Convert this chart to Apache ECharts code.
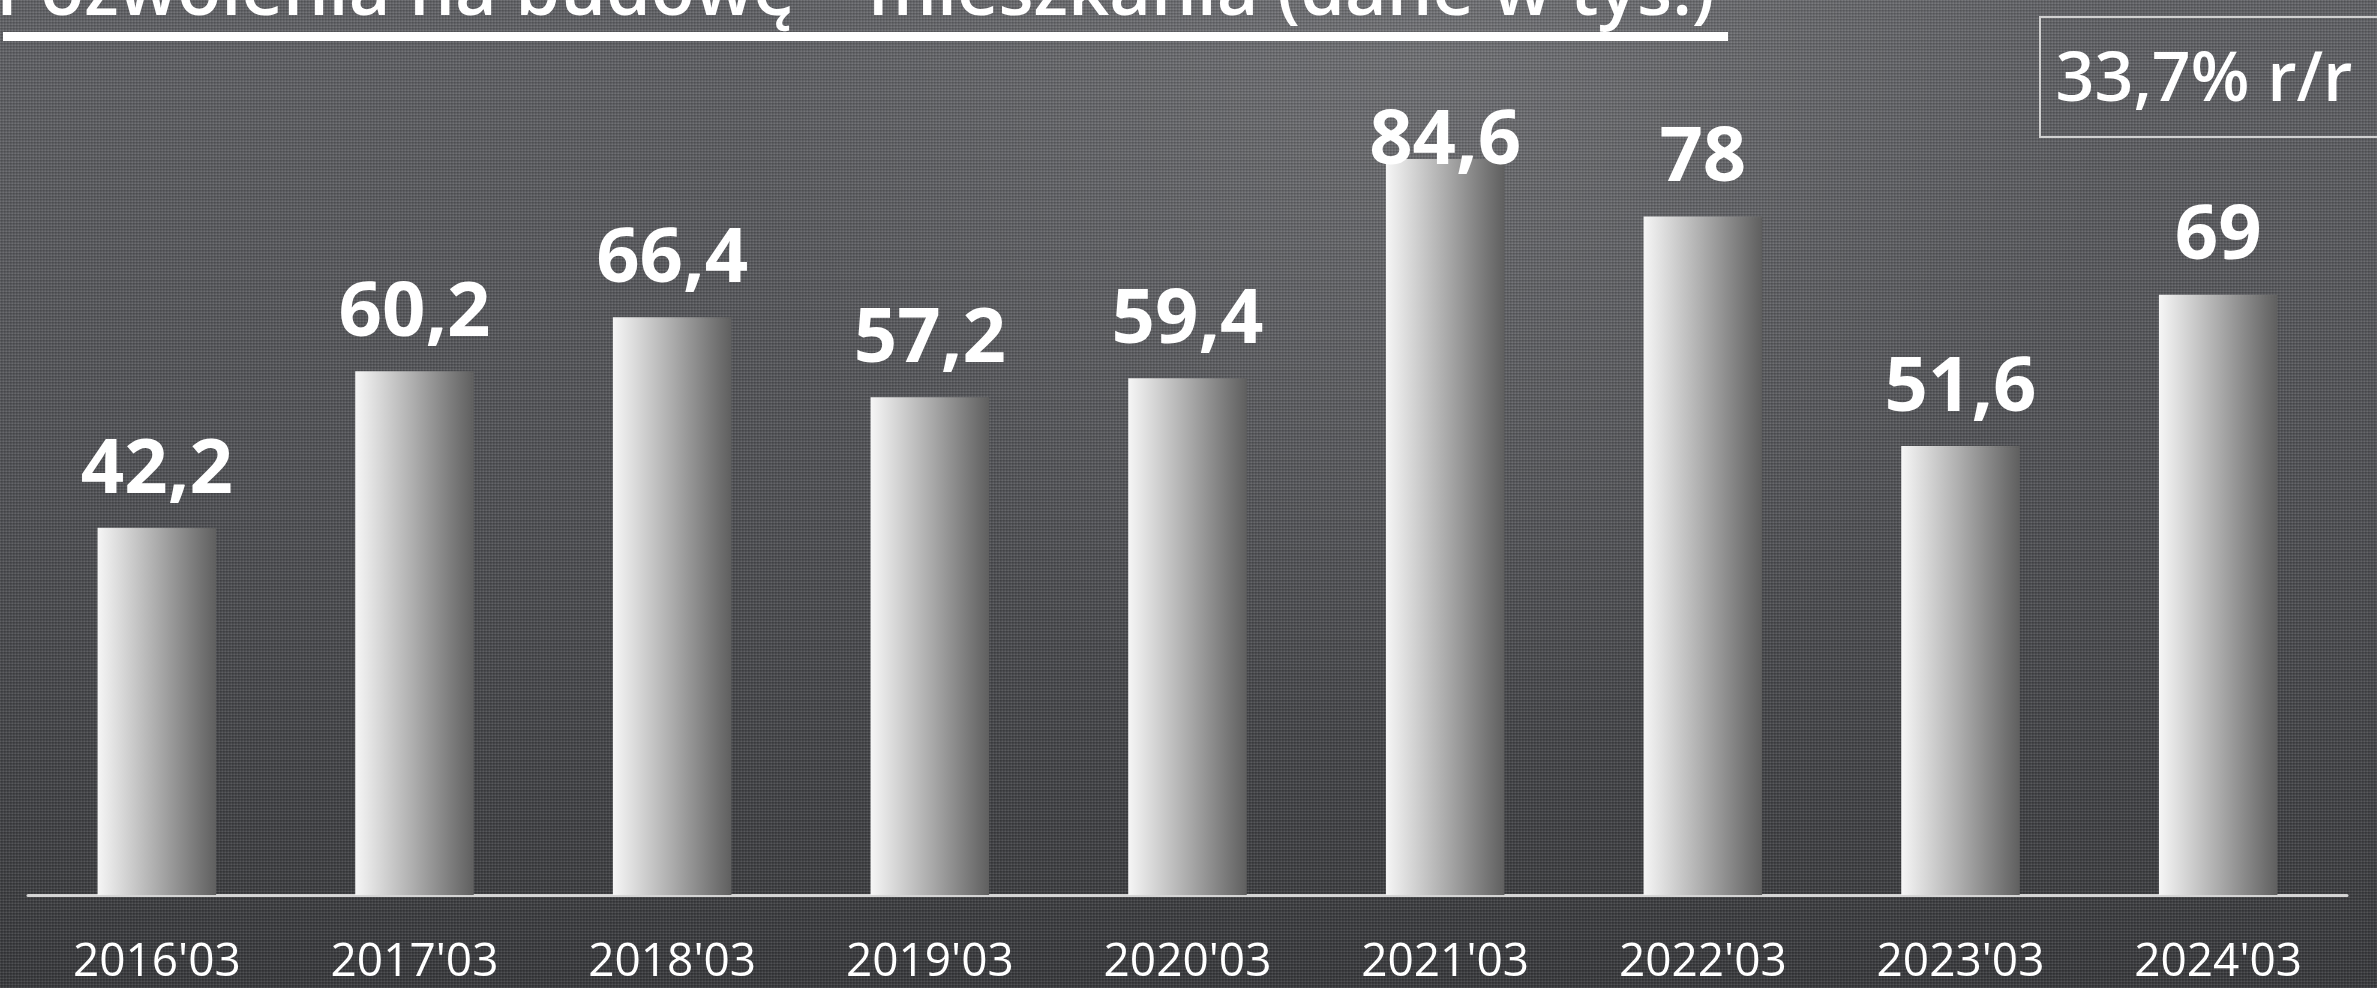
<!DOCTYPE html>
<html>
<head>
<meta charset="utf-8">
<script src="https://cdn.jsdelivr.net/npm/echarts@6/dist/echarts.min.js"></script>
<style>
html,body{margin:0;padding:0;background:#4a4b4f;}
#chart{width:2377px;height:988px;}
</style>
</head>
<body>
<div id="chart"></div>
<script>
const categories = ["2016'03","2017'03","2018'03","2019'03","2020'03","2021'03","2022'03","2023'03","2024'03"];
const values = [42.2, 60.2, 66.4, 57.2, 59.4, 84.6, 78, 51.6, 69];
const titleText = "Pozwolenia na budowę – mieszkania (dane w tys.)";
const badgeText = "33,7% r/r";

// subtle woven texture (deterministic grid pattern)
function makeTexture() {
  const c = document.createElement('canvas');
  c.width = 6; c.height = 6;
  const g = c.getContext('2d');
  g.clearRect(0,0,6,6);
  g.fillStyle = 'rgba(255,255,255,0.07)';
  g.fillRect(0,0,6,1);
  g.fillRect(0,3,6,1);
  g.fillStyle = 'rgba(255,255,255,0.05)';
  g.fillRect(0,0,1,6);
  g.fillRect(3,0,1,6);
  g.fillStyle = 'rgba(0,0,0,0.10)';
  g.fillRect(0,1,6,1);
  g.fillRect(0,4,6,1);
  g.fillStyle = 'rgba(0,0,0,0.07)';
  g.fillRect(1,0,1,6);
  g.fillRect(4,0,1,6);
  return c;
}

// bar data; the tallest label sits lower (touching its bar), as in the source
const barData = values.map((v, i) => {
  const d = {value: v};
  if (v === Math.max(...values)) d.label = {distance: -21};
  return d;
});

const chart = echarts.init(document.getElementById('chart'), null, {renderer:'canvas'});
const option = {
  animation: false,
  backgroundColor: {
    type: 'linear', x: 0, y: 0, x2: 0, y2: 1,
    colorStops: [
      {offset: 0, color: '#616266'},
      {offset: 0.5, color: '#505155'},
      {offset: 1, color: '#38393c'}
    ]
  },
  grid: {left: 28, right: 30, top: 25, bottom: 93, containLabel: false},
  xAxis: {
    type: 'category',
    data: categories,
    axisLine: {show: true, lineStyle: {color: '#d4d4d4', width: 3}},
    axisTick: {show: false},
    axisLabel: {
      color: '#ffffff', fontFamily: 'Open Sans', fontSize: 46, lineHeight: 46,
      margin: 45, interval: 0
    }
  },
  yAxis: {
    type: 'value', min: 0, max: 100, show: false,
    splitLine: {show: false}
  },
  series: [{
    type: 'bar',
    data: barData,
    barWidth: '46%',
    itemStyle: {
      color: {
        type: 'linear', x: 0, y: 0, x2: 1, y2: 0,
        colorStops: [
          {offset: 0, color: '#f6f6f6'},
          {offset: 0.5, color: '#acacac'},
          {offset: 1, color: '#5f5f5f'}
        ]
      }
    },
    label: {
      show: true, position: 'top', distance: 19,
      color: '#ffffff', fontFamily: 'Open Sans', fontWeight: 'bold',
      fontSize: 76, lineHeight: 76,
      formatter: p => String(p.value).replace('.', ',')
    }
  }],
  graphic: [
    {
      type: 'rect', z: -2, silent: true,
      shape: {x: 0, y: 0, width: 2377, height: 988},
      style: {fill: {
        type: 'radial', x: 0.6, y: 0.05, r: 0.7,
        colorStops: [
          {offset: 0, color: 'rgba(255,255,255,0.10)'},
          {offset: 1, color: 'rgba(255,255,255,0)'}
        ]
      }}
    },
    {
      type: 'rect', z: -1, silent: true,
      shape: {x: 0, y: 0, width: 2377, height: 988},
      style: {fill: {image: makeTexture(), repeat: 'repeat'}}
    },
    {
      type: 'text', z: 10,
      style: {
        text: titleText, x: -4, y: -6,
        fill: '#ffffff', font: '600 72px "Open Sans"',
        textAlign: 'left', textVerticalAlign: 'middle'
      }
    },
    {
      type: 'rect', z: 10,
      shape: {x: 3, y: 32, width: 1725, height: 9},
      style: {fill: '#ffffff'}
    },
    {
      type: 'rect', z: 10,
      shape: {x: 2040, y: 17, width: 360, height: 120},
      style: {fill: 'transparent', stroke: '#d0d0d0', lineWidth: 2}
    },
    {
      type: 'text', z: 10,
      style: {
        text: badgeText, x: 2204, y: 82,
        fill: '#ffffff', font: '600 68px "Open Sans"',
        textAlign: 'center', textVerticalAlign: 'middle'
      }
    }
  ]
};
chart.setOption(option);
</script>
</body>
</html>
